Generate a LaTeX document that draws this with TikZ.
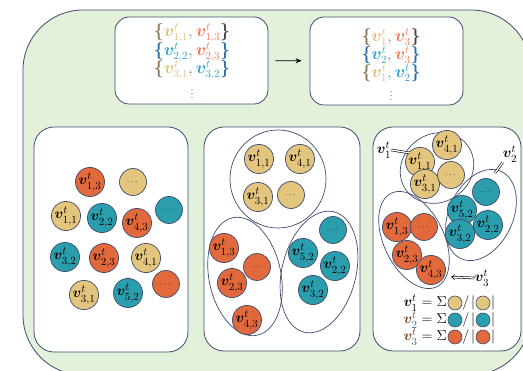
\documentclass[tikz,border=0pt]{standalone}
\usepackage{amsmath,amssymb,bm}
\usetikzlibrary{arrows.meta}
\definecolor{lineblue}{HTML}{3E4C6E}
\definecolor{bggreen}{HTML}{E3F1DB}
\definecolor{tanfill}{HTML}{E4C57E}
\definecolor{tealfill}{HTML}{2B9EAE}
\definecolor{orgfill}{HTML}{E2693C}
\definecolor{tantext}{HTML}{DDBE78}
\definecolor{orgtext}{HTML}{EC7A58}
\definecolor{tealtext}{HTML}{2DA5C6}
\definecolor{bracegray}{HTML}{8A7A62}
\definecolor{braceblue}{HTML}{2E6FA8}
\definecolor{vbrown}{HTML}{7A4520}
\newcommand{\vsym}[1]{\boldsymbol{v}^{t}_{#1}}
\begin{document}
\begin{tikzpicture}[x=1pt,y=-1pt,
  dot/.style={circle, draw=lineblue, line width=0.7pt, minimum size=27pt, inner sep=0pt,
    font=\fontsize{15}{17}\selectfont},
  tandot/.style={dot, fill=tanfill},
  tealdot/.style={dot, fill=tealfill},
  orgdot/.style={dot, fill=orgfill},
  minidot/.style={circle, draw=lineblue, line width=0.6pt, minimum size=14pt, inner sep=0pt},
  panel/.style={draw=lineblue, line width=0.8pt, fill=white, rounded corners=20pt, inner sep=0pt},
  topbox/.style={draw=lineblue, line width=0.8pt, fill=white, rounded corners=14pt, inner sep=0pt},
  grp/.style={draw=lineblue, line width=0.7pt},
  txt/.style={inner sep=0pt, font=\fontsize{16}{18}\selectfont},
  lbl/.style={inner sep=0pt, font=\fontsize{15}{17}\selectfont},
  dbl/.style={draw=black, double=white, double distance=1.3pt, line width=0.6pt},
  more/.style={font=\fontsize{9}{9}\selectfont},
  vdotsstyle/.style={inner sep=0pt, font=\fontsize{11}{11}\selectfont, text=vbrown}
]
\useasboundingbox (0,0) rectangle (523,371);
\clip (0,0) rectangle (523,371);

% green frame
\draw[draw=lineblue, line width=0.8pt, fill=bggreen, rounded corners=60pt] (23,10) rectangle (531,375);

% top row: pairs before and after merging
\node[topbox, minimum width=153pt, minimum height=87pt] (pairs) at (191.5,60.5) {};
\node[topbox, minimum width=153pt, minimum height=88pt] (merged) at (386.5,61) {};
\draw[line width=0.8pt, -{Stealth[length=6pt,width=5pt]}, shorten <=7pt, shorten >=8pt] (pairs) -- (merged);

\node[txt] (p1) at (192,33) {$\color{bracegray}\boldsymbol{\{}\color{tantext}\vsym{1,1}\color{gray},\color{orgtext}\vsym{1,3}\color{bracegray!60!black}\boldsymbol{\}}$};
\node[txt] (p2) at (192,52) {$\color{braceblue}\boldsymbol{\{}\color{tealtext}\vsym{2,2}\color{gray},\color{orgtext}\vsym{2,3}\color{braceblue}\boldsymbol{\}}$};
\node[txt] (p3) at (192,70) {$\color{bracegray}\boldsymbol{\{}\color{tantext}\vsym{3,1}\color{gray},\color{tealtext}\vsym{3,2}\color{braceblue}\boldsymbol{\}}$};
\node[vdotsstyle] (p4) at (192,91) {$\vdots$};

\node[txt] (m1) at (391,37) {$\color{bracegray}\boldsymbol{\{}\color{tantext}\vsym{1}\color{gray},\color{orgtext}\vsym{3}\color{bracegray!60!black}\boldsymbol{\}}$};
\node[txt] (m2) at (391,55) {$\color{braceblue}\boldsymbol{\{}\color{tealtext}\vsym{2}\color{gray},\color{orgtext}\vsym{3}\color{braceblue}\boldsymbol{\}}$};
\node[txt] (m3) at (391,73) {$\color{bracegray}\boldsymbol{\{}\color{tantext}\vsym{1}\color{gray},\color{tealtext}\vsym{2}\color{braceblue}\boldsymbol{\}}$};
\node[vdotsstyle] (m4) at (391,93) {$\vdots$};

% bottom row panels
\node[panel, minimum width=154pt, minimum height=225pt] (left) at (111,239.5) {};
\node[panel, minimum width=156pt, minimum height=224pt] (mid) at (282,239) {};
\node[panel, minimum width=148pt, minimum height=224pt] (right) at (447,239) {};

% panel 1: unsorted vertices
\node[orgdot]  (a13) at (90,182)  {$\vsym{1,3}$};
\node[tandot, more]  (ax1) at (133,182) {$\cdots$};
\node[tealdot, more] (ax2) at (169,210) {$\cdots$};
\node[tandot]  (a11) at (66,216)  {$\vsym{1,1}$};
\node[tealdot] (a22) at (102,218) {$\vsym{2,2}$};
\node[orgdot]  (a43) at (137,223) {$\vsym{4,3}$};
\node[tealdot] (a32) at (65,257)  {$\vsym{3,2}$};
\node[orgdot]  (a23) at (104,258) {$\vsym{2,3}$};
\node[tandot]  (a41) at (146,258) {$\vsym{4,1}$};
\node[orgdot, more]  (ax3) at (166,284) {$\cdots$};
\node[tandot]  (a31) at (84,295)  {$\vsym{3,1}$};
\node[tealdot] (a52) at (128,293) {$\vsym{5,2}$};

% panel 2: vertices grouped
\draw[grp] (278,179) ellipse [x radius=48, y radius=49];
\draw[grp, rotate around={11.6:(245,276.5)}] (245,276.5) ellipse [x radius=36, y radius=60];
\draw[grp, rotate around={-14:(319,272)}] (319,272) ellipse [x radius=37, y radius=62];
\node[tandot]  (b11) at (259,159) {$\vsym{1,1}$};
\node[tandot]  (b41) at (300,159) {$\vsym{4,1}$};
\node[tandot]  (b31) at (258,197) {$\vsym{3,1}$};
\node[tandot, more]  (bx1) at (291,195) {$\cdots$};
\node[orgdot]  (b13) at (224,248) {$\vsym{1,3}$};
\node[orgdot, more]  (bx3) at (257,267) {$\cdots$};
\node[orgdot]  (b23) at (232,283) {$\vsym{2,3}$};
\node[orgdot]  (b43) at (247,320) {$\vsym{4,3}$};
\node[tealdot, more] (bx2) at (333,230) {$\cdots$};
\node[tealdot] (b52) at (303,253) {$\vsym{5,2}$};
\node[tealdot] (b22) at (335,266) {$\vsym{2,2}$};
\node[tealdot] (b32) at (313,290) {$\vsym{3,2}$};

% panel 3: groups collapsed into averages
\draw[grp, rotate around={35:(437,168)}] (437,168) ellipse [x radius=38, y radius=34];
\draw[grp, rotate around={65:(481,215)}] (481,215) ellipse [x radius=48, y radius=32];
\draw[grp, rotate around={-64:(414,240)}] (414,240) ellipse [x radius=52, y radius=30];
\node[tandot]  (c11) at (420,162) {$\vsym{1,1}$};
\node[tandot]  (c41) at (447,145) {$\vsym{4,1}$};
\node[tandot]  (c31) at (425,184) {$\vsym{3,1}$};
\node[tandot, more]  (cx1) at (451,175) {$\cdots$};
\node[tealdot, more] (cx2) at (486,192) {$\cdots$};
\node[tealdot] (c52) at (462,210) {$\vsym{5,2}$};
\node[tealdot] (c22) at (488,225) {$\vsym{2,2}$};
\node[tealdot] (c32) at (460,234) {$\vsym{3,2}$};
\node[orgdot]  (c13) at (397,227) {$\vsym{1,3}$};
\node[orgdot, more]  (cx3) at (424,227) {$\cdots$};
\node[orgdot]  (c23) at (407,255) {$\vsym{2,3}$};
\node[orgdot]  (c43) at (431,270) {$\vsym{4,3}$};

\node[lbl] (g1) at (384,150) {$\vsym{1}$};
\node[lbl] (g2) at (510,154) {$\vsym{2}$};
\node[lbl] (g3) at (482,278) {$\vsym{3}$};
\coordinate (e1) at (410,153);
\coordinate (e2) at (495,173);
\coordinate (e3) at (451,277);
\draw[dbl] (g1.east) -- (e1);
\draw[dbl] (g2.south west) -- (e2);
\draw[dbl, -{Implies}] (g3.west) -- (e3);

% averaging rules
\node[lbl, anchor=east] (f1) at (447,303) {$\vsym{1} = \Sigma$};
\node[minidot, fill=tanfill] (f1a) at (455,303) {};
\node[lbl] (f1s) at (466,303) {$/$};
\node[lbl] (f1l) at (473,303) {$|$};
\node[minidot, fill=tanfill] (f1b) at (483,303) {};
\node[lbl] (f1r) at (493,303) {$|$};

\node[lbl, anchor=east] (f2) at (447,320) {$\color{vbrown}\boldsymbol{v}^{t}_{\color{braceblue}2}\color{black} = \Sigma$};
\node[minidot, fill=tealfill] (f2a) at (455,320) {};
\node[lbl] (f2s) at (466,320) {$/$};
\node[lbl] (f2l) at (473,320) {$|$};
\node[minidot, fill=tealfill] (f2b) at (483,320) {};
\node[lbl] (f2r) at (493,320) {$|$};

\node[lbl, anchor=east] (f3) at (447,337) {$\color{vbrown}\boldsymbol{v}^{t}_{\color{braceblue}3}\color{black} = \Sigma$};
\node[minidot, fill=orgfill] (f3a) at (455,337) {};
\node[lbl] (f3s) at (466,337) {$/$};
\node[lbl] (f3l) at (473,337) {$|$};
\node[minidot, fill=orgfill] (f3b) at (483,337) {};
\node[lbl] (f3r) at (493,337) {$|$};
\end{tikzpicture}
\end{document}
